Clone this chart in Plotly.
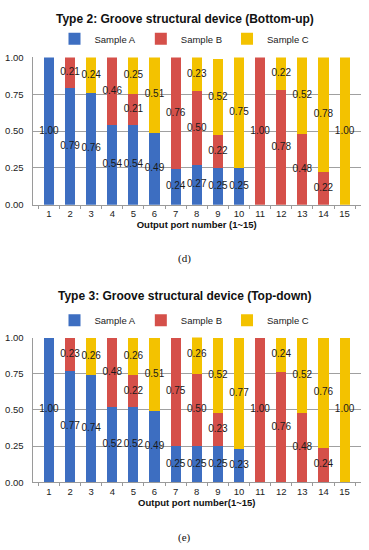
import plotly.graph_objects as go

ports = [str(i) for i in range(1, 16)]

# Type 2: Bottom-up
t2_a = [1.00, 0.79, 0.76, 0.54, 0.54, 0.49, 0.24, 0.27, 0.25, 0.25, 0, 0, 0, 0, 0]
t2_b = [0, 0.21, 0, 0.46, 0.21, 0, 0.76, 0.50, 0.22, 0, 1.00, 0.78, 0.48, 0.22, 0]
t2_c = [0, 0, 0.24, 0, 0.25, 0.51, 0, 0.23, 0.52, 0.75, 0, 0.22, 0.52, 0.78, 1.00]

# Type 3: Top-down
t3_a = [1.00, 0.77, 0.74, 0.52, 0.52, 0.49, 0.25, 0.25, 0.25, 0.23, 0, 0, 0, 0, 0]
t3_b = [0, 0.23, 0, 0.48, 0.22, 0, 0.75, 0.50, 0.23, 0, 1.00, 0.76, 0.48, 0.24, 0]
t3_c = [0, 0, 0.26, 0, 0.26, 0.51, 0, 0.26, 0.52, 0.77, 0, 0.24, 0.52, 0.76, 1.00]

series_names = ["Sample A", "Sample B", "Sample C"]
colors = ["#3D6EC1", "#D5504A", "#F3C200"]

W, H = 369, 550
FONT = "Liberation Sans, Arial, sans-serif"
SERIF = "Liberation Serif, Times New Roman, serif"

fig = go.Figure()

panels = [
    (t2_a, t2_b, t2_c, "x", "y", "legend"),
    (t3_a, t3_b, t3_c, "x2", "y2", "legend2"),
]

for (a, b, c, xa, ya, lg) in panels:
    vals = [a, b, c]
    for name, v, col in zip(series_names, vals, colors):
        fig.add_trace(go.Bar(
            x=ports, y=v, name=name, marker=dict(color=col, line=dict(width=0)),
            xaxis=xa, yaxis=ya, legend=lg, hoverinfo="skip",
        ))
    # labels at segment centers
    lx, ly, lt = [], [], []
    for i in range(len(ports)):
        base = 0
        for v in vals:
            if v[i] > 0:
                lx.append(ports[i])
                ly.append(base + v[i] / 2)
                lt.append(f"{v[i]:.2f}")
            base += v[i]
    fig.add_trace(go.Scatter(
        x=lx, y=ly, text=lt, mode="text", showlegend=False,
        textfont=dict(family=FONT, size=10, color="#1a1a1a"),
        xaxis=xa, yaxis=ya, hoverinfo="skip",
    ))

def px_y(p):
    return (H - p) / H

xdom = [32.5 / W, 361 / W]
axis_common = dict(showline=True, linecolor="#9a9a9a", linewidth=1)

def xaxis_def(anchor, title):
    return dict(domain=xdom, anchor=anchor, tickson="boundaries", ticks="outside",
                ticklen=3, tickcolor="#9a9a9a", tickangle=0,
                tickfont=dict(size=9.5, color="#222222"),
                title=dict(text=f"<b>{title}</b>", standoff=3,
                           font=dict(size=9.5, color="#111111")),
                **axis_common)

def yaxis_def(anchor, top, bottom):
    return dict(domain=[px_y(bottom), px_y(top)], anchor=anchor, range=[0, 1],
                tickvals=[0, 0.25, 0.5, 0.75, 1.0], tickformat=".2f",
                showgrid=True, gridcolor="#a0a0a0", gridwidth=1, ticks="",
                ticklabelstandoff=6,
                tickfont=dict(size=9.5, color="#222222"), zeroline=False,
                **axis_common)

def legend_def(ypix):
    return dict(orientation="h", x=0.5, xanchor="center", y=px_y(ypix),
                yanchor="middle", font=dict(size=9.5, color="#222222"),
                bgcolor="rgba(0,0,0,0)", itemwidth=30, traceorder="normal")

fig.update_layout(
    width=W, height=H, barmode="stack", bargap=0.52,
    margin=dict(l=0, r=0, t=0, b=0),
    paper_bgcolor="white", plot_bgcolor="white",
    font=dict(family=FONT, size=9.5, color="#222222"),
    xaxis=xaxis_def("y", "Output port number (1~15)"),
    yaxis=yaxis_def("x", 52.5, 202.7),
    xaxis2=xaxis_def("y2", "Output port number(1~15)"),
    yaxis2=yaxis_def("x2", 338.3, 486),
    legend=legend_def(33.5),
    legend2=legend_def(320.7),
    showlegend=True,
)

fig.add_annotation(text="<b>Type 2: Groove structural device (Bottom-up)</b>",
                   xref="paper", yref="paper", x=0.5, y=px_y(13),
                   xanchor="center", yanchor="middle", showarrow=False,
                   font=dict(size=12, family=FONT, color="#111111"))
fig.add_annotation(text="<b>Type 3: Groove structural device (Top-down)</b>",
                   xref="paper", yref="paper", x=0.5, y=px_y(296),
                   xanchor="center", yanchor="middle", showarrow=False,
                   font=dict(size=12, family=FONT, color="#111111"))
fig.add_annotation(text="(d)", xref="paper", yref="paper", x=0.5, y=px_y(258),
                   xanchor="center", yanchor="middle", showarrow=False,
                   font=dict(size=11, family=SERIF, color="#111111"))
fig.add_annotation(text="(e)", xref="paper", yref="paper", x=0.5, y=px_y(542),
                   xanchor="center", yanchor="middle", showarrow=False,
                   font=dict(size=11, family=SERIF, color="#111111"))

fig.write_html("out.html", config={"displayModeBar": False},
               post_script="document.body.style.margin='0';document.body.style.overflow='hidden';")
